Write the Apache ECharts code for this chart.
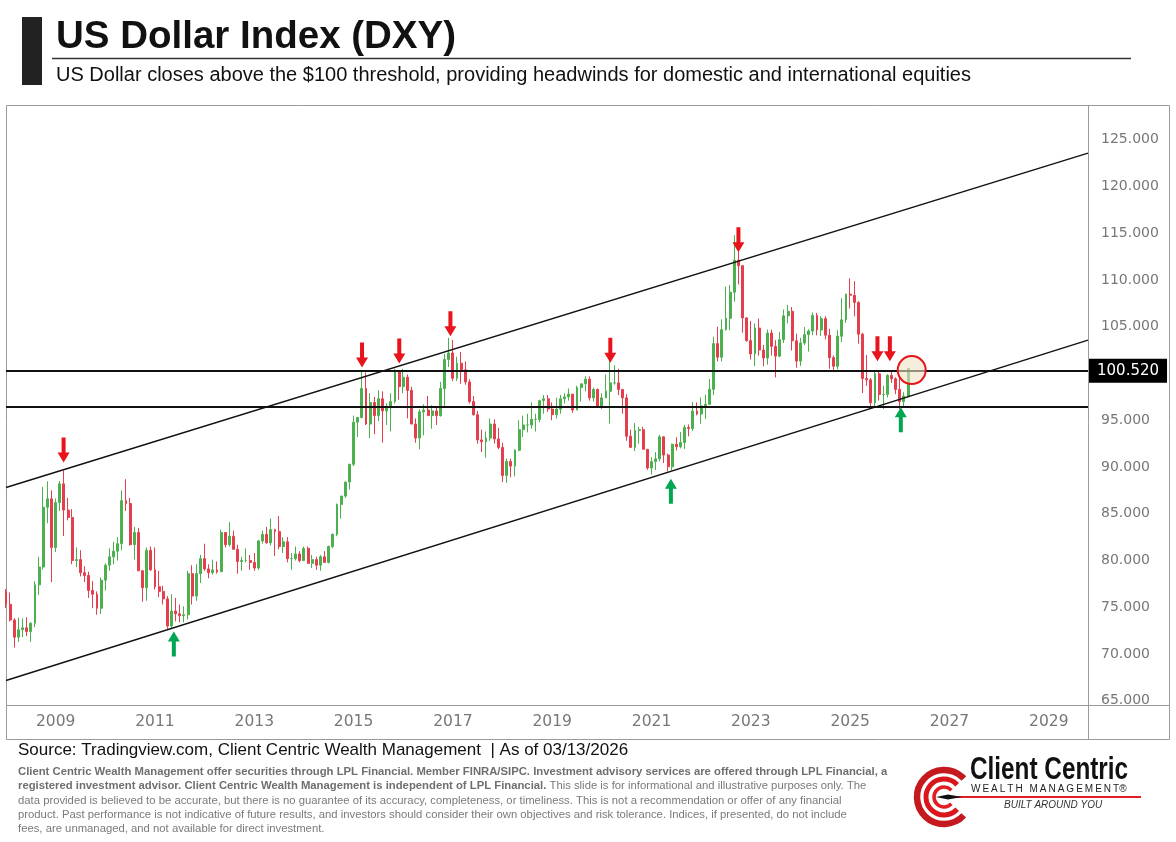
<!DOCTYPE html>
<html><head><meta charset="utf-8">
<script src="https://cdn.jsdelivr.net/npm/echarts@6/dist/echarts.min.js"></script>
<style>html,body{margin:0;padding:0;background:#fff}#c{width:1176px;height:842px}</style>
</head><body><div id="c"></div>
<script>
// ---- DATA: monthly DXY candles, Jan 2008 .. Mar 2026 ----
const firstYear = 2008;
const opens = [
 76.70,75.32,73.64,71.80,72.60,72.80,72.40,73.30,77.40,79.30,85.70,86.60,
 81.40,86.20,88.20,85.40,84.60,80.00,80.10,78.70,78.40,76.80,76.40,74.90,
 77.90,79.50,80.40,81.00,81.80,86.40,86.10,81.70,83.00,78.90,77.10,81.10,
 79.00,77.20,76.70,75.90,73.00,74.60,74.30,74.10,74.20,78.60,76.20,78.60,
 80.20,79.10,78.70,79.00,78.80,83.00,81.70,82.60,81.20,79.90,80.00,80.00,
 79.80,79.20,82.10,82.80,81.90,83.30,83.10,81.50,82.00,80.20,80.20,80.70,
 80.00,81.30,79.70,80.10,79.50,80.40,79.80,81.50,82.80,86.00,86.90,88.40,
 90.30,94.80,95.30,98.40,94.60,96.90,95.50,97.30,96.00,96.40,97.00,100.20,
 98.60,99.60,98.20,94.60,93.10,95.90,96.10,95.50,96.00,95.50,98.40,101.50,
 102.20,99.50,101.10,100.40,99.10,97.00,95.60,92.90,92.70,93.10,94.60,93.00,
 92.10,89.10,90.60,90.10,91.80,94.00,94.50,94.50,95.10,95.10,97.10,97.30,
 96.20,95.60,96.20,97.30,97.50,97.80,96.10,98.50,98.90,99.40,97.40,98.30,
 96.40,97.40,98.10,99.00,99.00,98.30,97.40,93.30,92.10,93.90,94.00,91.90,
 89.90,90.58,90.88,93.23,91.28,90.03,92.44,92.17,92.63,94.23,94.12,95.99,
 95.67,96.54,96.71,98.31,103.20,101.75,104.69,105.91,108.70,112.12,111.53,105.95,
 103.52,102.10,104.87,102.51,101.66,104.33,102.91,101.86,103.62,106.17,106.66,103.50,
 101.33,103.27,104.16,104.55,106.22,104.67,105.87,104.10,101.70,100.78,103.99,105.74,
 108.49,108.37,107.61,104.21,99.47,99.33,96.88,99.97,97.77,97.77,99.80,99.44,
 98.30,97.00,97.60
];
const highs = [
 76.94,76.58,73.84,73.90,73.80,73.93,73.38,77.77,80.41,87.88,88.46,87.50,
 86.63,88.50,89.62,86.70,85.50,81.40,81.10,79.40,78.80,77.80,76.70,78.20,
 79.70,81.30,82.00,82.50,87.50,88.70,86.70,83.60,83.50,79.00,81.40,81.50,
 81.40,78.90,77.30,76.20,76.40,76.00,75.30,75.10,78.90,79.50,79.60,80.60,
 81.80,79.60,80.10,79.90,83.30,83.00,84.10,83.20,81.70,80.40,81.30,80.60,
 80.80,82.20,83.20,83.60,84.50,83.40,84.75,82.50,82.50,80.80,81.50,81.00,
 81.50,81.50,80.60,80.40,80.60,81.00,81.60,82.90,86.10,86.90,88.40,90.30,
 95.50,95.30,100.39,100.10,97.90,97.50,98.20,98.10,96.80,97.90,100.51,100.30,
 100.50,99.90,98.60,95.20,96.20,96.70,97.60,96.60,96.40,99.10,102.10,103.82,
 103.60,101.80,102.30,101.30,99.40,97.60,96.00,94.00,93.80,95.20,95.10,94.20,
 92.60,90.90,90.90,91.90,95.00,95.50,95.70,96.90,95.70,97.20,97.70,97.70,
 96.90,97.40,97.70,97.90,98.40,97.80,98.70,98.90,99.70,99.70,98.50,98.40,
 97.90,99.90,102.99,100.90,100.50,98.30,97.80,93.99,94.70,94.30,94.30,91.90,
 91.05,91.60,93.44,93.29,91.43,92.50,93.19,93.73,94.50,94.56,96.94,96.91,
 97.44,97.74,99.42,103.93,105.01,105.79,109.29,109.48,114.78,113.89,111.61,106.02,
 105.63,105.36,105.88,103.06,104.70,104.70,103.57,104.44,106.84,107.35,107.11,104.26,
 103.82,104.97,104.73,106.52,106.49,106.13,106.13,104.80,101.92,104.63,108.07,108.54,
 110.18,109.88,107.73,104.37,101.98,99.51,100.25,100.26,98.68,99.93,100.36,99.60,
 99.50,98.00,100.60
];
const lows = [
 74.91,73.50,70.70,71.30,71.82,71.92,71.31,72.87,76.31,79.04,84.00,77.69,
 80.90,85.30,82.63,84.30,79.60,79.30,78.30,77.70,76.00,74.90,74.20,74.30,
 76.80,78.90,79.60,80.00,81.10,85.30,81.60,80.10,78.90,75.60,75.70,78.90,
 76.90,76.10,75.30,72.70,72.80,73.50,73.40,73.40,73.70,75.30,75.70,77.60,
 78.90,78.10,78.50,78.60,78.80,81.40,81.50,81.20,78.60,78.90,79.80,79.00,
 78.90,79.00,81.80,81.80,81.60,80.50,81.20,80.80,79.80,79.00,80.00,79.80,
 80.00,79.80,79.20,79.00,78.90,79.80,79.70,81.30,82.60,84.50,86.70,87.60,
 90.10,93.20,95.20,94.50,93.10,93.50,94.90,92.60,94.50,93.80,96.80,97.20,
 97.90,95.20,94.60,92.60,91.90,93.40,95.50,94.10,94.50,95.40,96.40,100.70,
 99.20,99.20,98.90,98.80,96.80,95.50,92.50,91.60,91.00,92.80,92.50,91.90,
 88.40,88.30,88.90,89.00,91.70,93.20,93.70,94.10,93.80,94.80,95.70,95.90,
 95.00,95.20,95.70,96.80,97.10,95.80,96.10,97.00,98.10,97.10,97.00,96.40,
 96.20,97.40,94.65,98.80,97.70,95.70,92.80,92.10,91.70,92.50,91.90,89.70,
 89.21,89.68,90.62,90.42,89.53,89.66,91.78,92.00,91.94,93.28,93.87,95.54,
 94.63,95.14,96.70,97.69,101.30,101.29,104.60,104.63,107.68,109.53,104.37,103.39,
 101.50,100.80,101.92,100.79,100.95,101.92,99.58,101.74,103.27,105.36,102.46,100.62,
 100.82,103.05,102.35,104.10,104.08,104.03,103.65,100.51,100.16,100.44,103.37,105.42,
 106.96,106.12,103.20,97.92,98.69,96.38,96.37,97.11,96.22,97.46,99.00,97.80,
 96.20,96.40,97.40
];
const closes = [
 75.32,73.64,71.80,72.60,72.80,72.40,73.30,77.40,79.30,85.70,86.60,81.40,
 86.20,88.20,85.40,84.60,80.00,80.10,78.70,78.40,76.80,76.40,74.90,77.90,
 79.50,80.40,81.00,81.80,86.40,86.10,81.70,83.00,78.90,77.10,81.10,79.00,
 77.20,76.70,75.90,73.00,74.60,74.30,74.10,74.20,78.60,76.20,78.60,80.20,
 79.10,78.70,79.00,78.80,83.00,81.70,82.60,81.20,79.90,80.00,80.00,79.80,
 79.20,82.10,82.80,81.90,83.30,83.10,81.50,82.00,80.20,80.20,80.70,80.00,
 81.30,79.70,80.10,79.50,80.40,79.80,81.50,82.80,86.00,86.90,88.40,90.30,
 94.80,95.30,98.40,94.60,96.90,95.50,97.30,96.00,96.40,97.00,100.20,98.60,
 99.60,98.20,94.60,93.10,95.90,96.10,95.50,96.00,95.50,98.40,101.50,102.20,
 99.50,101.10,100.40,99.10,97.00,95.60,92.90,92.70,93.10,94.60,93.00,92.10,
 89.10,90.60,90.10,91.80,94.00,94.50,94.50,95.10,95.10,97.10,97.30,96.20,
 95.60,96.20,97.30,97.50,97.80,96.10,98.50,98.90,99.40,97.40,98.30,96.40,
 97.40,98.10,99.00,99.00,98.30,97.40,93.30,92.10,93.90,94.00,91.90,89.90,
 90.58,90.88,93.23,91.28,90.03,92.44,92.17,92.63,94.23,94.12,95.99,95.67,
 96.54,96.71,98.31,103.20,101.75,104.69,105.91,108.70,112.12,111.53,105.95,103.52,
 102.10,104.87,102.51,101.66,104.33,102.91,101.86,103.62,106.17,106.66,103.50,101.33,
 103.27,104.16,104.55,106.22,104.67,105.87,104.10,101.70,100.78,103.99,105.74,108.49,
 108.37,107.61,104.21,99.47,99.33,96.88,99.97,97.77,97.77,99.80,99.44,98.30,
 97.00,97.60,100.52
];
// axis labels
const yearLabels = [2009,2011,2013,2015,2017,2019,2021,2023,2025,2027,2029];
const priceTicks = [65,70,75,80,85,90,95,100,105,110,115,120,125];
// drawn levels (price) and trend channel (decimal year, price)
const levels = [100.30, 96.47];
const channelUpper = [[2008.0, 87.81],[2029.79, 123.58]];
const channelLower = [[2008.0, 67.17],[2029.79, 103.58]];
// annotation arrows [decimal year, price at arrow tip]
const redArrows = [[2009.16,90.43],[2015.17,100.59],[2015.92,101.02],[2016.95,103.94],[2020.17,101.09],[2022.75,112.92],[2025.55,101.26],[2025.80,101.26]];
const greenArrows = [[2011.38,72.46],[2021.39,88.79],[2026.02,96.45]];
const highlight = [2026.24, 100.37];

const UP = '#4caf50', DOWN = '#e53e4f';
const candles = closes.map((c,i)=>[firstYear + i/12, opens[i], c, lows[i], highs[i]]);
const lastClose = closes[closes.length-1];

const downArrow = 'path://M4,0 L8,0 L8,15 L12,15 L6,25 L0,15 L4,15 Z';
const upArrow = 'path://M6,0 L12,10 L8,10 L8,25 L4,25 L4,10 L0,10 Z';
const markPoints = [];
redArrows.forEach(a=>markPoints.push({coord:a, symbol:downArrow, symbolSize:[12,25], symbolOffset:[0,-13], itemStyle:{color:'#e8131b'}}));
greenArrows.forEach(a=>markPoints.push({coord:a, symbol:upArrow, symbolSize:[12,25], symbolOffset:[0,13], itemStyle:{color:'#00a651'}}));
markPoints.push({coord:highlight, symbol:'circle', symbolSize:28, itemStyle:{color:'rgba(240,226,196,0.6)', borderColor:'#e8131b', borderWidth:2}});

const SANS = "'Liberation Sans', Arial, sans-serif";
const DJV = "'DejaVu Sans', sans-serif";
const discl = [
 '{b|Client Centric Wealth Management offer securities through LPL Financial. Member FINRA/SIPC. Investment advisory services are offered through LPL Financial, a}',
 '{b|registered investment advisor. Client Centric Wealth Management is independent of LPL Financial.}{n| This slide is for informational and illustrative purposes only. The}',
 '{n|data provided is believed to be accurate, but there is no guarantee of its accuracy, completeness, or timeliness. This is not a recommendation or offer of any financial}',
 '{n|product. Past performance is not indicative of future results, and investors should consider their own objectives and risk tolerance. Indices, if presented, do not include}',
 '{n|fees, are unmanaged, and not available for direct investment.}'
];
const graphics = [
 {type:'rect', shape:{x:22,y:17,width:20,height:68}, style:{fill:'#222'}},
 {type:'text', x:56, y:37, style:{text:'US Dollar Index (DXY)', font:"bold 38.5px "+SANS, fill:'#111', verticalAlign:'middle'}},
 {type:'line', shape:{x1:52,y1:58.5,x2:1131,y2:58.5}, style:{stroke:'#333', lineWidth:1.5}},
 {type:'text', x:56, y:75, style:{text:'US Dollar closes above the $100 threshold, providing headwinds for domestic and international equities', font:"20px "+SANS, fill:'#111', verticalAlign:'middle'}},
 {type:'rect', shape:{x:6.5,y:105.5,width:1163,height:634}, style:{fill:null, stroke:'#9a9a9a', lineWidth:1}},
 {type:'line', shape:{x1:1088.5,y1:105,x2:1088.5,y2:740}, style:{stroke:'#9a9a9a', lineWidth:1}},
 {type:'line', shape:{x1:6,y1:705.5,x2:1170,y2:705.5}, style:{stroke:'#9a9a9a', lineWidth:1}},
 {type:'text', x:18, y:750, style:{text:'Source: Tradingview.com, Client Centric Wealth Management  | As of 03/13/2026', font:"17px "+SANS, fill:'#111', verticalAlign:'middle'}},
];
discl.forEach((t,i)=>graphics.push({type:'text', x:18, y:772+i*14.2, style:{text:t, verticalAlign:'middle', rich:{
  b:{fontFamily:SANS, fontSize:11.3, fontWeight:'bold', fill:'#6f6f6f', color:'#6f6f6f'},
  n:{fontFamily:SANS, fontSize:11.3, fill:'#7a7a7a', color:'#7a7a7a'}}}}));
// logo
const cx=944, cy=797;
[[27,6.5,'#c41a1f'],[18,5,'#d9161c'],[10,3.5,'#e21d24']].forEach(r=>graphics.push({type:'arc', shape:{cx:cx,cy:cy,r:r[0],startAngle:0.75,endAngle:2*Math.PI-0.75,clockwise:true}, style:{stroke:r[2], lineWidth:r[1], fill:null}}));
graphics.push({type:'line', shape:{x1:948,y1:797,x2:1141,y2:797}, style:{stroke:'#e21d24', lineWidth:2}});
graphics.push({type:'polygon', shape:{points:[[936,797],[948,794.5],[962,797],[948,799.5]]}, style:{fill:'#111'}});
graphics.push({type:'text', x:970, y:770, scaleX:0.76, style:{text:'Client Centric', x:0, y:0, font:"bold 32px "+SANS, fill:'#111', verticalAlign:'middle'}});
graphics.push({type:'text', x:971, y:789.5, style:{text:'W\u2009E\u2009A\u2009L\u2009T\u2009H\u2009 \u2009M\u2009A\u2009N\u2009A\u2009G\u2009E\u2009M\u2009E\u2009N\u2009T\u00ae', font:"10px "+SANS, fill:'#222', verticalAlign:'middle'}});
graphics.push({type:'text', x:1004, y:805, style:{text:'BUILT AROUND YOU', font:"italic 10px "+SANS, fill:'#333', verticalAlign:'middle'}});

const chart = echarts.init(document.getElementById('c'), null, {renderer:'canvas'});
chart.setOption({
  animation:false,
  backgroundColor:'#fff',
  grid:{left:6, right:88, top:105, bottom:137, containLabel:false},
  xAxis:{type:'value', min:2008, max:2029.79, interval:1,
    axisLine:{show:false}, axisTick:{show:false}, splitLine:{show:false},
    axisLabel:{margin:9, color:'#777', fontSize:15.5, fontFamily:DJV,
      formatter:v=> yearLabels.includes(v) ? String(v) : ''}},
  yAxis:{type:'value', position:'right', min:64.55, max:128.72,
    axisLine:{show:false}, axisTick:{show:false}, splitLine:{show:false},
    axisLabel:{customValues:priceTicks, formatter:v=>v.toFixed(3), color:'#777', fontSize:14, fontFamily:DJV, margin:13, align:'left'}},
  graphic:graphics,
  series:[{
    type:'candlestick', data:candles, encode:{x:0, y:[1,2,3,4]},
    barWidth:2.4,
    itemStyle:{color:UP, color0:DOWN, borderColor:UP, borderColor0:DOWN, borderWidth:1},
    markLine:{silent:true, symbol:['none','none'], animation:false,
      label:{show:false},
      data:[
        {yAxis:levels[0], lineStyle:{color:'#111', width:2, type:'solid'},
          label:{show:true, position:'end', distance:1, formatter:lastClose.toFixed(3), backgroundColor:'#000', color:'#fff', padding:[5,8,4,8], fontSize:15, fontFamily:DJV}},
        {yAxis:levels[1], lineStyle:{color:'#111', width:2, type:'solid'}},
        [{coord:channelUpper[0], lineStyle:{color:'#111', width:1.4, type:'solid'}},{coord:channelUpper[1]}],
        [{coord:channelLower[0], lineStyle:{color:'#111', width:1.4, type:'solid'}},{coord:channelLower[1]}]
      ]},
    markPoint:{silent:true, label:{show:false}, data:markPoints}
  }]
});
</script></body></html>
